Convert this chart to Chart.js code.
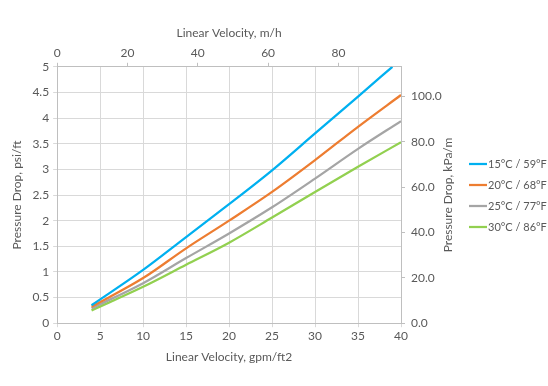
<!DOCTYPE html>
<html>
<head>
<meta charset="utf-8">
<script src="https://cdn.jsdelivr.net/npm/chart.js@4"></script>
<style>
    html, body { margin: 0; padding: 0; background: #fff; }
    #wrap { width: 548px; height: 386px; }
</style>
</head>
<body>
<div id="wrap"><canvas id="myChart"></canvas></div>
<script>
// данные
const velocity = [4, 10, 15, 20, 25, 30, 35, 40];
const velocityBlue = [4, 10, 15, 20, 25, 30, 35, 39];
const drop15 = [0.35, 1.04, 1.68, 2.32, 2.98, 3.70, 4.42, 5.0];
const drop20 = [0.32, 0.88, 1.46, 2.0, 2.56, 3.18, 3.83, 4.45];
const drop25 = [0.29, 0.78, 1.27, 1.75, 2.26, 2.82, 3.40, 3.94];
const drop30 = [0.25, 0.71, 1.14, 1.57, 2.06, 2.56, 3.05, 3.53];
const seriesLabels = ['15°C / 59°F', '20°C / 68°F', '25°C / 77°F', '30°C / 86°F'];
const seriesColors = ['#00B0F0', '#ED7D31', '#A5A5A5', '#92D050'];
const topTicks = [0, 20, 40, 60, 80];
const rightTicks = [0, 20, 40, 60, 80, 100];

const PSI_FT_TO_KPA_M = 22.62;
const GPM_FT2_TO_M_H = 2.445;

const font = { family: 'Lato, "Open Sans", sans-serif', size: 12 };
const textColor = '#595959';

function pts(xs, ys) {
    return xs.map((x, i) => ({x: x, y: ys[i]}));
}

const datasets = [drop15, drop20, drop25, drop30].map((ys, i) => ({
    label: seriesLabels[i],
    data: pts(i === 0 ? velocityBlue : velocity, ys),
    borderColor: seriesColors[i],
    backgroundColor: seriesColors[i],
    borderWidth: 2.25,
    pointRadius: 0,
    cubicInterpolationMode: 'monotone',
    xAxisID: 'x',
    yAxisID: 'y'
}));

// своя легенда справа + заголовок правой оси (снизу вверх, как в Excel)
const sideLegend = {
    id: 'sideLegend',
    afterDraw(chart) {
        const c = chart.ctx;
        const area = chart.chartArea;
        c.save();
        c.font = font.size + 'px ' + font.family;
        c.fillStyle = textColor;
        c.textAlign = 'center';
        c.textBaseline = 'middle';
        c.translate(448, (area.top + area.bottom) / 2);
        c.rotate(-Math.PI / 2);
        c.fillText('Pressure Drop, kPa/m', 0, 0);
        c.restore();

        c.save();
        c.font = '11px ' + font.family;
        c.textBaseline = 'middle';
        seriesLabels.forEach((lab, i) => {
            const y = 164 + i * 21;
            c.strokeStyle = seriesColors[i];
            c.lineWidth = 2.25;
            c.beginPath();
            c.moveTo(469, y);
            c.lineTo(487, y);
            c.stroke();
            c.fillStyle = textColor;
            c.fillText(lab, 488, y);
        });
        c.restore();
    }
};

Chart.defaults.font = font;
Chart.defaults.color = textColor;

new Chart(document.getElementById('myChart'), {
    type: 'line',
    data: { datasets: datasets },
    options: {
        responsive: true,
        maintainAspectRatio: false,
        animation: false,
        layout: { padding: { left: 6, right: 89, top: 22, bottom: 18 } },
        plugins: {
            legend: { display: false },
            tooltip: { enabled: false }
        },
        scales: {
            x: {
                type: 'linear',
                position: 'bottom',
                min: 0, max: 40,
                ticks: { stepSize: 5, color: textColor, padding: 2 },
                grid: { color: '#D9D9D9', tickLength: 4 },
                border: { color: '#BFBFBF' },
                title: { display: true, text: 'Linear Velocity, gpm/ft2', color: textColor, padding: { top: 4 } }
            },
            x2: {
                type: 'linear',
                position: 'top',
                min: 0, max: 40 * GPM_FT2_TO_M_H,
                afterBuildTicks(axis) {
                    axis.ticks = topTicks.map(v => ({value: v}));
                },
                ticks: { color: textColor, padding: 2 },
                grid: { drawOnChartArea: false, color: '#BFBFBF', tickLength: 4 },
                border: { color: '#BFBFBF' },
                title: { display: true, text: 'Linear Velocity, m/h', color: textColor, padding: { bottom: 4 } }
            },
            y: {
                position: 'left',
                min: 0, max: 5,
                ticks: { stepSize: 0.5, color: textColor, padding: 4, callback: v => String(v) },
                grid: { color: '#D9D9D9', tickLength: 4 },
                border: { color: '#BFBFBF' },
                title: { display: true, text: 'Pressure Drop, psi/ft', color: textColor }
            },
            y2: {
                position: 'right',
                min: 0, max: 5 * PSI_FT_TO_KPA_M,
                afterBuildTicks(axis) {
                    axis.ticks = rightTicks.map(v => ({value: v}));
                },
                afterFit(axis) {
                    axis.width = 58;
                },
                ticks: { color: textColor, padding: 6, callback: v => v.toFixed(1) },
                grid: { drawOnChartArea: false, color: '#BFBFBF', tickLength: 4 },
                border: { color: '#BFBFBF' },
                title: { display: false }
            }
        }
    },
    plugins: [sideLegend]
});
</script>
</body>
</html>
